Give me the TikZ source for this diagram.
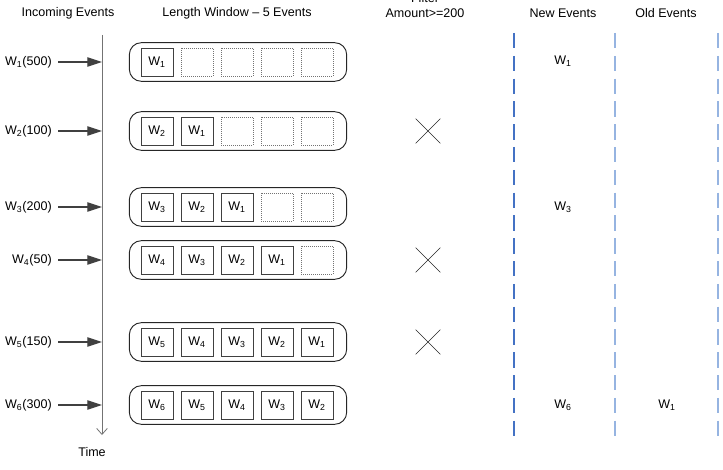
\documentclass[tikz,border=0pt]{standalone}
\usepackage{fontspec}
\setmainfont{Liberation Sans}
\usepackage{xcolor}
\usetikzlibrary{arrows.meta,positioning,shapes.misc}

\definecolor{laneA}{RGB}{68,114,196}
\definecolor{laneB}{RGB}{150,180,225}

\begin{document}
\begin{tikzpicture}[x=0.75pt,y=-0.75pt,>=Stealth,font=\fontsize{9.4}{11}\selectfont,
 win/.style={draw=black!85,line width=0.7pt,rounded corners=9pt,minimum width=163pt,minimum height=29pt},
 cell/.style={draw=black!75,line width=0.65pt,minimum width=24pt,minimum height=21pt,inner sep=0pt},
 slot/.style={draw=black!55,densely dotted,line width=0.5pt,minimum width=24pt,minimum height=21pt,inner sep=0pt},
 inlbl/.style={anchor=east,inner xsep=4.5pt},
 feed/.style={-{Triangle[length=11pt,width=7pt]},draw=black!75,line width=0.9pt},
 drop/.style={draw=black!85,cross out,line width=0.45pt,minimum size=18pt,inner sep=0pt},
 lane/.style={dash pattern=on 11.5pt off 5.6pt}]
\useasboundingbox (0,0) rectangle (723,470);

% headers
\node (hin) at (68,13) {Incoming Events};
\node (hwin) at (237,13) {Length Window -- 5 Events};
\node[anchor=base] (hfil) at (425,3) {Filter};
\node (hamt) at (425,13) {Amount>=200};
\node (hnew) at (563,13) {New Events};
\node (hold) at (666,13) {Old Events};

% time axis
\coordinate (ttop) at (102,35);
\coordinate (tbot) at (102,435);
\draw[-{Straight Barb[length=4.5pt,width=8pt]},draw=black!55,line width=0.6pt] (ttop) -- (tbot);
\node (time) at (92,452) {Time};

% incoming events and length window
\foreach \y/\amt/\r [count=\i] in {62/500/{1,0,0,0,0},131/100/{2,1,0,0,0},207/200/{3,2,1,0,0},
  260/50/{4,3,2,1,0},342/150/{5,4,3,2,1},405/300/{6,5,4,3,2}}{
  \coordinate (t\i) at (102,\y);
  \node[inlbl] (in\i) at (58,\y) {W\textsubscript{\i}(\amt)};
  \draw[feed] (in\i) -- (t\i);
  \node[win] (win\i) at (238,\y) {};
  \foreach \w [count=\k] in \r {
    \ifnum\w=0
      \node[slot] (c\i\k) at (157+40*\k-40,\y) {};
    \else
      \node[cell] (c\i\k) at (157+40*\k-40,\y) {W\textsubscript{\w}};
    \fi
  }
}

% filter
\node[drop] (f2) at (428,131) {};
\node[drop] (f4) at (428,260) {};
\node[drop] (f5) at (428,342) {};

% lanes
\draw[lane,draw=laneA,line width=0.8pt] (514,33) -- (514,436);
\draw[lane,draw=laneB,line width=1.5pt] (615,33) -- (615,436);
\draw[lane,draw=laneB,line width=1.5pt] (718,33) -- (718,436);

% output streams
\node (n1) at (563,61) {W\textsubscript{1}};
\node (n3) at (563,207) {W\textsubscript{3}};
\node (n6) at (563,405) {W\textsubscript{6}};
\node (o1) at (667,405) {W\textsubscript{1}};
\end{tikzpicture}
\end{document}
